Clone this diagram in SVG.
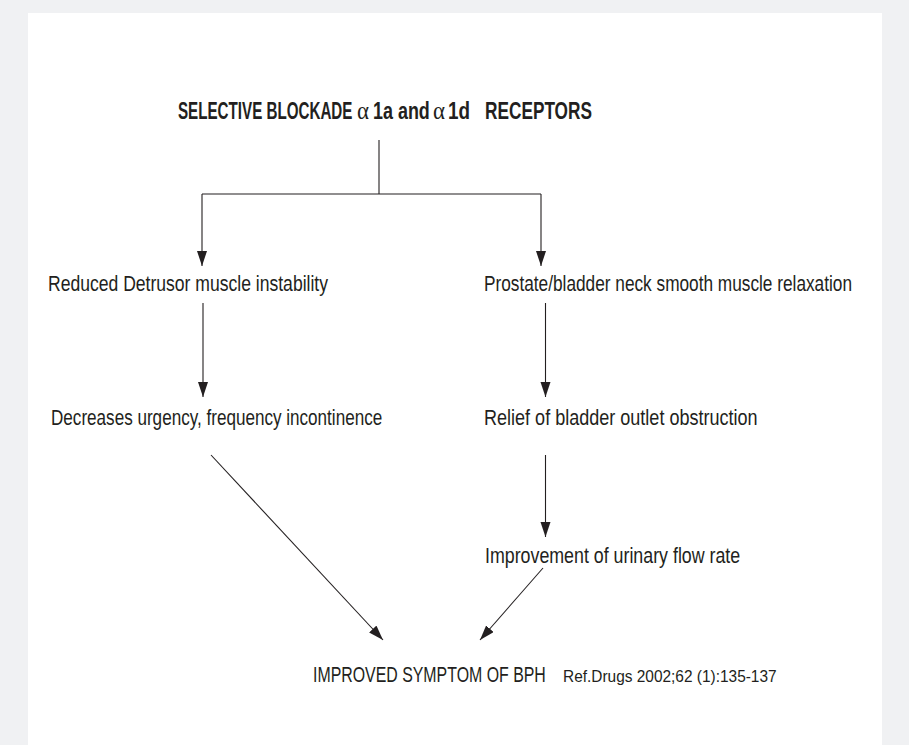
<svg xmlns="http://www.w3.org/2000/svg" width="909" height="745" viewBox="0 0 909 745">
<style>
  .t { font-family: "Liberation Sans", "Noto Sans", sans-serif; fill: #231f20; }
  .body { font-size: 22px; }
  .title { font-size: 23px; font-weight: bold; }
  .ref { font-size: 16.5px; }
  .alpha { font-family: "Liberation Serif", "DejaVu Serif", serif; font-size: 25px; fill: #231f20; }
  .c { stroke: #231f20; stroke-width: 1.1; fill: none; }
</style>
<defs>
  <marker id="ah" markerUnits="userSpaceOnUse" markerWidth="16" markerHeight="12" refX="15" refY="5" orient="auto">
    <path d="M0,0 L15,5 L0,10 Z" fill="#231f20"/>
  </marker>
</defs>
<rect x="0" y="0" width="909" height="745" fill="#f0f1f3"/>
<rect x="28" y="13" width="854" height="732" fill="#ffffff"/>

<g id="connectors">
  <path class="c" d="M379,140 V194"/>
  <path class="c" d="M202,194 H541"/>
  <path class="c" d="M202,194 V266" marker-end="url(#ah)"/>
  <path class="c" d="M541,194 V266" marker-end="url(#ah)"/>
  <path class="c" d="M203,303 V397" marker-end="url(#ah)"/>
  <path class="c" d="M545.5,303 V397" marker-end="url(#ah)"/>
  <path class="c" d="M545.5,455 V537" marker-end="url(#ah)"/>
  <path class="c" d="M211,455 L383,640" marker-end="url(#ah)"/>
  <path class="c" d="M543,568 L480,640" marker-end="url(#ah)"/>
</g>

<g id="n-title">
  <text class="t title" transform="translate(178,119) scale(0.66,1)">SELECTIVE BLOCKADE</text>
  <text class="alpha" x="357" y="119" textLength="12" lengthAdjust="spacingAndGlyphs">α</text>
  <text class="t title" transform="translate(373,119) scale(0.78,1)">1a and</text>
  <text class="alpha" x="433" y="119" textLength="12" lengthAdjust="spacingAndGlyphs">α</text>
  <text class="t title" transform="translate(448,119) scale(0.82,1)">1d</text>
  <text class="t title" transform="translate(485,119) scale(0.75,1)">RECEPTORS</text>
</g>
<g id="n-reduced">
  <text class="t body" transform="translate(48,291) scale(0.8,1)" textLength="350" lengthAdjust="spacingAndGlyphs">Reduced Detrusor muscle instability</text>
</g>
<g id="n-prostate">
  <text class="t body" transform="translate(484,291) scale(0.8,1)" textLength="460" lengthAdjust="spacingAndGlyphs">Prostate/bladder neck smooth muscle relaxation</text>
</g>
<g id="n-decreases">
  <text class="t body" transform="translate(51,425) scale(0.8,1)" textLength="414" lengthAdjust="spacingAndGlyphs">Decreases urgency, frequency incontinence</text>
</g>
<g id="n-relief">
  <text class="t body" transform="translate(484,425) scale(0.8,1)" textLength="342" lengthAdjust="spacingAndGlyphs">Relief of bladder outlet obstruction</text>
</g>
<g id="n-improvement">
  <text class="t body" transform="translate(485,563) scale(0.8,1)" textLength="319" lengthAdjust="spacingAndGlyphs">Improvement of urinary flow rate</text>
</g>
<g id="n-improved">
  <text class="t body" transform="translate(313,682) scale(0.8,1)" textLength="291" lengthAdjust="spacingAndGlyphs">IMPROVED SYMPTOM OF BPH</text>
</g>
<g id="n-ref">
  <text class="t ref" transform="translate(563,682) scale(0.8,1)" textLength="267" lengthAdjust="spacingAndGlyphs">Ref.Drugs 2002;62 (1):135-137</text>
</g>
</svg>
